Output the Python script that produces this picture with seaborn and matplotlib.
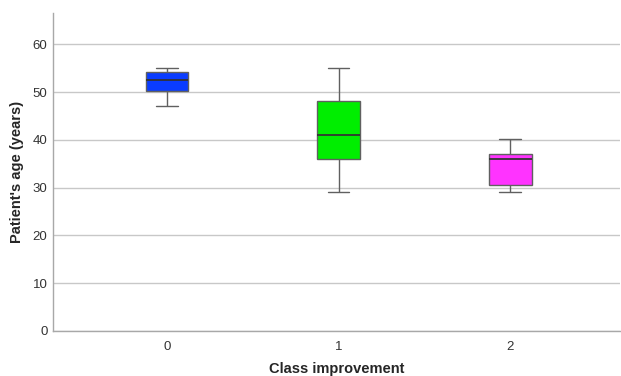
import pandas as pd
import matplotlib
matplotlib.use("Agg")
import matplotlib.pyplot as plt
import seaborn as sns

# values: [lower whisker, Q1, median, Q3, upper whisker]
class_0 = [47.1, 50.2, 52.6, 54.2, 55.0]
class_1 = [29.1, 36.1, 41.0, 48.1, 55.1]
class_2 = [29.1, 30.6, 36.0, 37.0, 40.1]
categories = ["0", "1", "2"]
box_colors = ["#0a3cff", "#00ee00", "#ff33ff"]
y_ticks = [0, 10, 20, 30, 40, 50, 60]

df = pd.DataFrame({
    "group": [c for c, vals in zip(categories, [class_0, class_1, class_2]) for _ in vals],
    "age": class_0 + class_1 + class_2,
})

sns.set_style("white")
plt.rcParams['font.family'] = ['Liberation Sans', 'DejaVu Sans']

fig = plt.figure(figsize=(6.21, 3.76), dpi=100)
ax = fig.add_axes([0.0853, 0.1197, 0.913, 0.845])

sns.boxplot(data=df, x="group", y="age", hue="group", palette=box_colors,
            order=categories, hue_order=categories, legend=False, saturation=1,
            width=0.25, whis=(0, 100), linewidth=1.0, linecolor="#606060",
            medianprops={"color": "#333333", "linewidth": 1.3},
            capprops={"color": "#606060"}, whiskerprops={"color": "#606060"},
            ax=ax)

ax.set_ylim(0, 66.5)
ax.set_xlim(-0.665, 2.64)
ax.set_yticks(y_ticks)
ax.yaxis.grid(True, color="#c8c8c8", linewidth=1.0)
ax.set_axisbelow(True)
for side in ["top", "right"]:
    ax.spines[side].set_visible(False)
for side in ["left", "bottom"]:
    ax.spines[side].set_color("#a8a8a8")
    ax.spines[side].set_linewidth(1.0)
ax.tick_params(axis="both", length=0, labelsize=9.5, colors="#333333")
ax.tick_params(axis="y", pad=4)
ax.tick_params(axis="x", pad=7)
ax.set_xlabel("Class improvement", fontsize=10.5, fontweight="bold")
ax.set_ylabel("Patient's age (years)", fontsize=10.5, fontweight="bold")
ax.xaxis.set_label_coords(0.5, -0.098)
ax.yaxis.set_label_coords(-0.051, 0.5)

fig.savefig("out.png", dpi=100)
